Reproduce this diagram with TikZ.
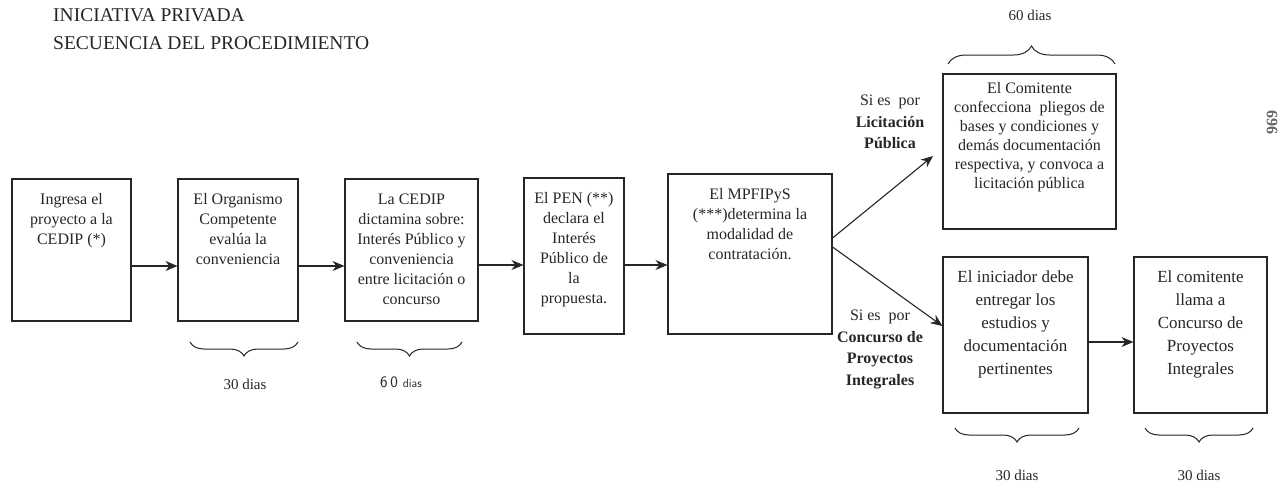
\documentclass[tikz,border=0pt]{standalone}
\usepackage{fontspec}
\setmainfont{Liberation Serif}
\usetikzlibrary{arrows.meta,decorations.pathreplacing,calc}
\begin{document}
\begin{tikzpicture}[x=1pt,y=-1pt,
  box/.style={draw=black!85,line width=1.1pt,inner sep=0pt},
  btxt/.style={inner sep=0pt,align=center,text=black!85,anchor=north},
  arr/.style={draw=black!85,line width=1.1pt,-{Stealth[length=12pt,width=10pt]}},
  brc/.style={draw=black!85,line width=1pt,decorate,decoration={brace,amplitude=14pt,aspect=0.5}},
  lbl/.style={inner sep=0pt,text=black!85,font=\fontsize{15}{16}\selectfont},
]
\useasboundingbox (0,0) rectangle (1287,483);
\fill[white] (0,0) rectangle (1287,483);

% title
\node[lbl,anchor=base west,font=\fontsize{19.5}{20}\selectfont] (tt1) at (53,21) {INICIATIVA PRIVADA};
\node[lbl,anchor=base west,font=\fontsize{19.5}{20}\selectfont] (tt2) at (53,49) {SECUENCIA DEL PROCEDIMIENTO};

% boxes
\node[box,minimum width=119pt,minimum height=142pt] (b1) at (71.5,250) {};
\node[box,minimum width=120pt,minimum height=142pt] (b2) at (238,250) {};
\node[box,minimum width=133pt,minimum height=142pt] (b3) at (411.5,250) {};
\node[box,minimum width=100pt,minimum height=156pt] (b4) at (574,256) {};
\node[box,minimum width=164pt,minimum height=160pt] (b5) at (750,254) {};
\node[box,minimum width=173pt,minimum height=155pt] (b6) at (1029.5,151.5) {};
\node[box,minimum width=145pt,minimum height=156pt] (b7) at (1015.5,335) {};
\node[box,minimum width=133pt,minimum height=156pt] (b8) at (1200.5,335) {};

% box texts
\node[btxt,font=\fontsize{16}{20}\selectfont] (t1) at ([yshift=-15pt]b1.north) {Ingresa el\\proyecto a la\\CEDIP (*)};
\node[btxt,font=\fontsize{16}{20}\selectfont] (t2) at ([yshift=-15pt]b2.north) {El Organismo\\Competente\\evalúa la\\conveniencia};
\node[btxt,font=\fontsize{16}{20}\selectfont] (t3) at ([yshift=-15pt]b3.north) {La CEDIP\\dictamina sobre:\\Interés Público y\\conveniencia\\entre licitación o\\concurso};
\node[btxt,font=\fontsize{16}{20}\selectfont] (t4) at ([yshift=-15pt]b4.north) {El PEN (**)\\declara el\\Interés\\Público de\\la\\propuesta.};
\node[btxt,font=\fontsize{16}{20}\selectfont] (t5) at ([yshift=-15pt]b5.north) {El MPFIPyS\\(***)determina la\\modalidad de\\contratación.};
\node[btxt,font=\fontsize{16}{19}\selectfont] (t6) at ([yshift=-9pt]b6.north) {El Comitente\\confecciona\ \ pliegos de\\bases y condiciones y\\demás documentación\\respectiva, y convoca a\\licitación pública};
\node[btxt,font=\fontsize{17}{23}\selectfont] (t7) at ([yshift=-14pt]b7.north) {El iniciador debe\\entregar los\\estudios y\\documentación\\pertinentes};
\node[btxt,font=\fontsize{17}{23}\selectfont] (t8) at ([yshift=-14pt]b8.north) {El comitente\\llama a\\Concurso de\\Proyectos\\Integrales};

% straight arrows
\draw[arr] (b1.east |- 0,266) -- (b2.west |- 0,266);
\draw[arr] (b2.east |- 0,266) -- (b3.west |- 0,266);
\draw[arr] (b3.east |- 0,265) -- (b4.west |- 0,265);
\draw[arr] (b4.east |- 0,265) -- (b5.west |- 0,265);
\draw[arr] (b7.east |- 0,342) -- (b8.west |- 0,342);

% branch arrows
\coordinate (s1) at (b5.east |- 0,238);
\coordinate (s2) at (b5.east |- 0,247);
\coordinate (e1) at (933,156);
\coordinate (e2) at (b7.west |- 0,326);
\draw[arr] (s1) -- (e1);
\draw[arr] (s2) -- (e2);

% branch labels
\node[lbl,align=center,anchor=north,font=\fontsize{16}{21.5}\selectfont] (l1) at (890,95) {Si es\ \ por\\\textbf{Licitación}\\\textbf{Pública}};
\node[lbl,align=center,anchor=north,font=\fontsize{16}{21.5}\selectfont] (l2) at (880,310) {Si es\ \ por\\\textbf{Concurso de}\\\textbf{Proyectos}\\\textbf{Integrales}};

% braces
\draw[brc] (298,342) -- (190,342);
\node[lbl] (d2) at (245,384) {30 dias};
\draw[brc] (462,342) -- (357,342);
\node[lbl,font=\sffamily\fontsize{16}{16}\selectfont] (d3) at (401,382) {6\,0 {\fontsize{12}{14}\selectfont dias}};
\draw[brc] (1079,428) -- (955,428);
\node[lbl,anchor=base] (d7) at (1017,480) {30 dias};
\draw[brc] (1253,428) -- (1145,428);
\node[lbl,anchor=base] (d8) at (1199,480) {30 dias};
\draw[brc,decoration={brace,amplitude=18pt}] (948,64) -- (1115,64);
\node[lbl] (d6) at (1030,15) {60 dias};

% stamp
\node[lbl,rotate=-90,font=\bfseries\fontsize{16}{16}\selectfont,text=black!60] (st) at (1272,122) {696};
\end{tikzpicture}
\end{document}
